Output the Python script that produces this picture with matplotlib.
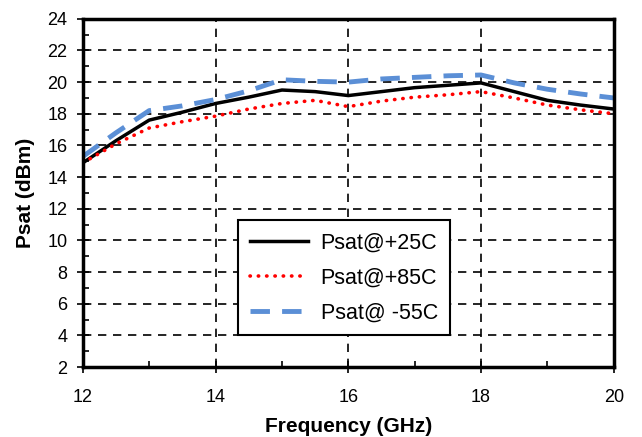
import matplotlib
matplotlib.use('Agg')
import matplotlib.pyplot as plt
from matplotlib.ticker import MultipleLocator

plt.rcParams['font.family'] = ['Liberation Sans', 'DejaVu Sans']

# Frequency points (GHz)
freq = [12, 12.5, 13, 13.5, 14, 14.5, 15, 15.5, 16, 16.5, 17, 17.5, 18, 18.5, 19, 19.5, 20]

# Psat readings (dBm)
psat_25 = [14.9, 16.3, 17.6, 18.1, 18.65, 19.05, 19.5, 19.4, 19.15, 19.4, 19.65, 19.8, 19.95, 19.4, 18.85, 18.55, 18.3]
psat_85 = [14.9, 16.1, 17.1, 17.5, 17.85, 18.3, 18.65, 18.85, 18.45, 18.8, 19.05, 19.2, 19.4, 19.0, 18.55, 18.25, 18.0]
psat_m55 = [15.3, 16.8, 18.2, 18.5, 18.9, 19.45, 20.15, 20.05, 20.0, 20.2, 20.3, 20.4, 20.45, 19.95, 19.55, 19.25, 19.0]

fig = plt.figure(figsize=(6.42, 4.37), dpi=100)
ax = fig.add_axes([0.129, 0.160, 0.827, 0.797])

ax.plot(freq, psat_25, color='black', lw=2.5, label='Psat@+25C')
ax.plot(freq, psat_85, color='#ff0000', lw=2.6, linestyle=(0, (0.1, 2.2)), dash_capstyle='round',
        label='Psat@+85C')
ax.plot(freq, psat_m55, color='#5b8fd6', lw=3.5, linestyle=(0, (4, 2.5)), label='Psat@ -55C')

ax.set_xlim(12, 20)
ax.set_ylim(2, 24)
ax.xaxis.set_major_locator(MultipleLocator(2))
ax.xaxis.set_minor_locator(MultipleLocator(1))
ax.yaxis.set_major_locator(MultipleLocator(2))
ax.yaxis.set_minor_locator(MultipleLocator(1))

ax.tick_params(which='major', direction='inout', length=8, width=1.2, labelsize=13, colors='black')
ax.tick_params(which='minor', direction='in', length=4, width=1.2)
ax.tick_params(axis='x', pad=12)
ax.tick_params(axis='y', pad=7)

ax.grid(which='major', color='black', linestyle=(0, (5, 4)), lw=1.2)

for s in ax.spines.values():
    s.set_linewidth(2.5)

ax.set_xlabel('Frequency (GHz)', fontsize=15, fontweight='bold', labelpad=8)
ax.set_ylabel('Psat (dBm)', fontsize=15, fontweight='bold', labelpad=9)

leg = ax.legend(loc='lower left', bbox_to_anchor=(0.292, 0.092, 0.399, 0.336), mode='expand',
                fontsize=15.5, fancybox=False, framealpha=1, edgecolor='black',
                handlelength=2.7, handletextpad=0.6, borderaxespad=0, labelspacing=0.65,
                borderpad=0.55)
leg.get_frame().set_linewidth(1.5)

fig.savefig('out.png', dpi=100)
